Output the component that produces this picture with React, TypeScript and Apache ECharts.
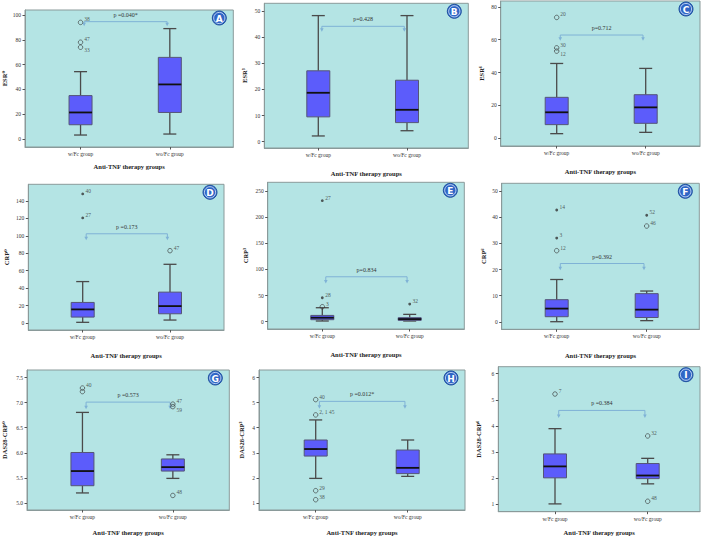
import React, { useEffect, useRef } from "react";
import * as echarts from "echarts";

// ---------- data ----------
const groups = ["w/Fc group", "wo/Fc group"];
const xTitle = "Anti-TNF therapy groups";
const letters = ["A", "B", "C", "D", "E", "F", "G", "H", "I"];
const yNames = ["ESR⁰", "ESR³", "ESR⁶", "CRP⁰", "CRP³", "CRP⁶", "DAS28-CRP⁰", "DAS28-CRP³", "DAS28-CRP⁶"];
const pTexts = ["p =0.040*", "p=0.428", "p=0.712", "p =0.173", "p=0.834", "p=0.392", "p =0.573", "p =0.012*", "p =0.384"];

// [min, Q1, median, Q3, max] for each group
const boxA = [[3.2, 11.5, 21.4, 35, 54.3], [4, 21.4, 44, 65.8, 89]];
const boxB = [[2.2, 9.5, 18.7, 27.1, 48.2], [4.2, 7.3, 12.2, 23.5, 48.2]];
const boxC = [[2.8, 8.3, 15.8, 24.9, 45.5], [3.6, 9.1, 18.8, 26.5, 42.5]];
const boxD = [[0.8, 6.8, 15.6, 23.6, 47.5], [3.4, 10.6, 19.4, 35.4, 67.3]];
const boxE = [[1.3, 3.8, 7.6, 12, 26.7], [1.3, 2.5, 5, 7.6, 14]];
const boxF = [[0.1, 2, 5.1, 8.5, 16.2], [0.5, 1.7, 4.7, 10.8, 11.8]];
const boxG = [[5.2, 5.344, 5.636, 6.006, 6.805], [5.49, 5.636, 5.714, 5.877, 5.96]];
const boxH = [[1.98, 2.87, 3.15, 3.51, 4.31], [2.06, 2.17, 2.4, 3.11, 3.51]];
const boxI = [[1.0, 2.0, 2.44, 2.92, 3.89], [1.77, 1.97, 2.09, 2.55, 2.75]];

// outliers: [group index, value, case label, kind ("o" outlier, "*" extreme)]
const outA: [number, number, string, string][] = [[0, 94, "38", "o"], [0, 78, "47", "o"], [0, 74, "33", "o"]];
const outB: [number, number, string, string][] = [];
const outC: [number, number, string, string][] = [[0, 73.5, "20", "o"], [0, 55, "30", "o"], [0, 53, "12", "o"]];
const outD: [number, number, string, string][] = [[0, 148, "40", "*"], [0, 120.5, "27", "*"], [1, 82.9, "47", "o"]];
const outE: [number, number, string, string][] = [[0, 231.5, "27", "*"], [0, 45.8, "28", "*"], [0, 28.6, "3", "o"], [1, 33.7, "32", "*"]];
const outF: [number, number, string, string][] = [[0, 42.7, "14", "*"], [0, 32, "3", "*"], [0, 27.2, "12", "o"], [1, 40.7, "52", "*"], [1, 36.6, "46", "o"]];
const outG: [number, number, string, string][] = [[0, 7.29, "40", "o"], [0, 7.22, "", "o"], [1, 6.97, "47", "o"], [1, 6.92, "59", "o"], [1, 5.15, "48", "o"]];
const outH: [number, number, string, string][] = [[0, 5.12, "40", "o"], [0, 4.51, "2, 1 45", "o"], [0, 1.49, "29", "o"], [0, 1.13, "38", "o"]];
const outI: [number, number, string, string][] = [[0, 5.22, "7", "o"], [1, 3.61, "32", "o"], [1, 1.1, "48", "o"]];

// significance bracket: [arrow tip value, bar value]
const brA = [90.9, 94.6];
const brB = [42, 44.1];
const brC = [59.3, 62.8];
const brD = [95, 102.3];
const brE = [73, 85.9];
const brF = [19.7, 22.3];
const brG = [6.87, 7.01];
const brH = [4.76, 5.05];
const brI = [4.3, 4.59];

// y axis ranges and tick labels
const rangeA = [-6.45, 104];
const rangeB = [-2.4, 52.9];
const rangeC = [-4.7, 83.5];
const rangeD = [-8, 159];
const rangeE = [-14, 266.6];
const rangeF = [-2.8, 52.9];
const rangeG = [4.86, 7.65];
const rangeH = [0.72, 6.3];
const rangeI = [0.7, 6.27];
const ticksA = [0, 20, 40, 60, 80, 100];
const ticksB = [0, 10, 20, 30, 40, 50];
const ticksC = [0, 20, 40, 60, 80];
const ticksD = [0, 20, 40, 60, 80, 100, 120, 140];
const ticksE = [0, 50, 100, 150, 200, 250];
const ticksF = [0, 10, 20, 30, 40, 50];
const ticksG = [5, 5.5, 6, 6.5, 7, 7.5];
const ticksH = [1, 2, 3, 4, 5, 6];
const ticksI = [1, 2, 3, 4, 5, 6];

const boxes = [boxA, boxB, boxC, boxD, boxE, boxF, boxG, boxH, boxI];
const outs = [outA, outB, outC, outD, outE, outF, outG, outH, outI];
const brackets = [brA, brB, brC, brD, brE, brF, brG, brH, brI];
const ranges = [rangeA, rangeB, rangeC, rangeD, rangeE, rangeF, rangeG, rangeH, rangeI];
const ticks = [ticksA, ticksB, ticksC, ticksD, ticksE, ticksF, ticksG, ticksH, ticksI];
const decimals = [0, 0, 0, 0, 0, 0, 1, 0, 0];

// ---------- layout (px): [left, top, right, bottom, center1, center2, yNameGap, xNameGap] ----------
const frames = [
  [23.3, 10, 233.3, 147, 79.3, 169.3, 17, 16],
  [264.3, 3.3, 468.3, 148, 318.3, 407, 16, 22],
  [500.7, 1, 700, 146, 556.7, 645.7, 16, 22],
  [28.3, 184.3, 224, 330, 82.7, 170, 18, 21.5],
  [267.7, 182.3, 464.3, 329, 322.3, 409.7, 19, 22],
  [501.7, 183.3, 699.3, 329.3, 556.7, 646.7, 15, 23],
  [25, 370, 229.3, 513.3, 81, 172.3, 19, 19],
  [259, 370, 465, 511, 315.7, 407.7, 14, 19],
  [498.3, 366.7, 700, 511.7, 555, 647.7, 16, 17],
];
const bracketEnds = [0.04, 0.97];
// outlier labels placed below-right instead of above-right: "panel:label"
const labelsBelow = new Set(["2:12", "6:59", "0:33"]);

const SERIF = "'Liberation Serif', 'DejaVu Serif', serif";
const BG = "#b4e4e4";
const FRAME = "#8a9a9a";
const BOX_FILL = "#5c5cfb";
const WHISK = "#4a4a4a";
const BR_COLOR = "#7fb2d6";

function buildOption() {
  const grid: any[] = [];
  const xAxis: any[] = [];
  const yAxis: any[] = [];
  const series: any[] = [];
  const graphic: any[] = [];

  frames.forEach((f, p) => {
    const [L, T, R, B, c1, c2, yGap, xGap] = f;
    const span = c2 - c1;
    const xmin = -(c1 - L) / span;
    const xmax = 1 + (R - c2) / span;
    grid.push({
      left: L, top: T, width: R - L, height: B - T,
      show: true, backgroundColor: BG, borderColor: FRAME, borderWidth: 1, containLabel: false,
    });
    xAxis.push({
      gridIndex: p, type: "value", min: xmin, max: xmax,
      name: xTitle, nameLocation: "middle", nameGap: xGap,
      nameTextStyle: { fontFamily: SERIF, fontWeight: "bold", fontSize: 6.5, color: "#222" },
      axisLine: { show: true, onZero: false, lineStyle: { color: FRAME, width: 1 } },
      axisTick: { show: true, length: 2.5, lineStyle: { color: "#555" }, customValues: [0, 1] },
      axisLabel: {
        show: true, fontFamily: SERIF, fontSize: 5.5, color: "#333", margin: 4,
        customValues: [0, 1], formatter: (v: number) => groups[Math.round(v)] ?? "",
      },
      splitLine: { show: false },
    });
    const dec = decimals[p];
    yAxis.push({
      gridIndex: p, type: "value", min: ranges[p][0], max: ranges[p][1],
      name: yNames[p], nameLocation: "middle", nameGap: yGap, nameRotate: 90,
      nameTextStyle: { fontFamily: SERIF, fontWeight: "bold", fontSize: 6.5, color: "#222" },
      axisLine: { show: true, onZero: false, lineStyle: { color: FRAME, width: 1 } },
      axisTick: { show: true, length: 2.5, lineStyle: { color: "#555" }, customValues: ticks[p] },
      axisLabel: {
        show: true, fontFamily: SERIF, fontSize: 5.5, color: "#333", margin: 4,
        customValues: ticks[p], formatter: (v: number) => v.toFixed(dec),
      },
      splitLine: { show: false },
    });

    // boxes
    series.push({
      type: "custom", xAxisIndex: p, yAxisIndex: p, clip: false,
      data: boxes[p].map((b, i) => [i, ...b]),
      encode: { x: 0, y: [1, 2, 3, 4, 5] },
      renderItem: (params: any, api: any) => {
        const i = api.value(0);
        const pts = [1, 2, 3, 4, 5].map((k) => api.coord([i, api.value(k)]));
        const x = pts[0][0];
        const hw = 11.5;
        const cw = 6.5;
        const yMin = pts[0][1], yQ1 = pts[1][1], yMed = pts[2][1], yQ3 = pts[3][1], yMax = pts[4][1];
        const ls = { stroke: WHISK, lineWidth: 1.3 };
        return {
          type: "group",
          children: [
            { type: "line", shape: { x1: x, y1: yMax, x2: x, y2: yQ3 }, style: ls },
            { type: "line", shape: { x1: x, y1: yQ1, x2: x, y2: yMin }, style: ls },
            { type: "line", shape: { x1: x - cw, y1: yMax, x2: x + cw, y2: yMax }, style: ls },
            { type: "line", shape: { x1: x - cw, y1: yMin, x2: x + cw, y2: yMin }, style: ls },
            { type: "rect", shape: { x: x - hw, y: yQ3, width: 2 * hw, height: yQ1 - yQ3 }, style: { fill: BOX_FILL, stroke: "#555577", lineWidth: 1 } },
            { type: "line", shape: { x1: x - hw, y1: yMed, x2: x + hw, y2: yMed }, style: { stroke: "#111", lineWidth: 1.8 } },
          ],
        };
      },
    });

    // outliers
    const o = outs[p];
    const mkPoint = (d: [number, number, string, string]) => ({
      value: [d[0], d[1]],
      label: {
        formatter: d[2],
        offset: labelsBelow.has(`${p}:${d[2]}`) ? [0, 3] : [0, -3],
      },
    });
    series.push({
      type: "scatter", xAxisIndex: p, yAxisIndex: p,
      symbol: "circle", symbolSize: 4.5,
      itemStyle: { color: "rgba(0,0,0,0)", borderColor: "#333", borderWidth: 0.8 },
      label: { show: true, position: "right", distance: 1, fontFamily: SERIF, fontSize: 5.5, color: "#333" },
      data: o.filter((d) => d[3] === "o").map(mkPoint),
    });
    series.push({
      type: "scatter", xAxisIndex: p, yAxisIndex: p,
      symbol: "circle", symbolSize: 2.8,
      itemStyle: { color: "#333" },
      label: { show: true, position: "right", distance: 1.5, fontFamily: SERIF, fontSize: 5.5, color: "#333" },
      data: o.filter((d) => d[3] === "*").map(mkPoint),
    });

    // bracket
    const pText = pTexts[p];
    series.push({
      type: "custom", xAxisIndex: p, yAxisIndex: p, clip: false,
      data: [[bracketEnds[0], brackets[p][1], bracketEnds[1], brackets[p][0]]],
      renderItem: (params: any, api: any) => {
        const a = api.coord([api.value(0), api.value(1)]);
        const b = api.coord([api.value(2), api.value(1)]);
        const tipY = api.coord([api.value(0), api.value(3)])[1];
        const st = { stroke: BR_COLOR, lineWidth: 1, fill: "none" };
        const arrow = (x: number) => ({
          type: "polygon",
          shape: { points: [[x - 1.8, tipY - 3.5], [x + 1.8, tipY - 3.5], [x, tipY]] },
          style: { fill: BR_COLOR },
        });
        return {
          type: "group",
          children: [
            { type: "polyline", shape: { points: [[a[0], tipY - 2], [a[0], a[1]], [b[0], b[1]], [b[0], tipY - 2]] }, style: st },
            arrow(a[0]),
            arrow(b[0]),
            {
              type: "text", x: (a[0] + b[0]) / 2, y: a[1] - 7,
              style: { text: pText, fontFamily: SERIF, fontSize: 6, fill: "#333", align: "center", verticalAlign: "middle" },
            },
          ],
        };
      },
    });

    // panel letter badge
    graphic.push({
      type: "group", x: R - 14, y: T + 8, z: 10,
      children: [
        { type: "circle", shape: { cx: 0, cy: 0, r: 7 }, style: { fill: "#2f66c6", stroke: "#1e4f9e", lineWidth: 1 } },
        { type: "circle", shape: { cx: 0, cy: 0, r: 5.6 }, style: { fill: "none", stroke: "#dce8fa", lineWidth: 0.8 } },
        {
          type: "text", x: 0, y: 0.5,
          style: { text: letters[p], fontFamily: "'DejaVu Sans', sans-serif", fontWeight: "bold", fontSize: 9, fill: "#fff", align: "center", verticalAlign: "middle" },
        },
      ],
    });
  });

  return { animation: false, backgroundColor: "#ffffff", grid, xAxis, yAxis, series, graphic };
}

export default function App() {
  const ref = useRef<HTMLDivElement>(null);
  useEffect(() => {
    if (!ref.current) return;
    const chart = echarts.init(ref.current, undefined, { renderer: "svg" });
    chart.setOption(buildOption() as any);
    return () => chart.dispose();
  }, []);
  return <div ref={ref} style={{ position: "absolute", left: 0, top: 0, width: 707, height: 537 }} />;
}
